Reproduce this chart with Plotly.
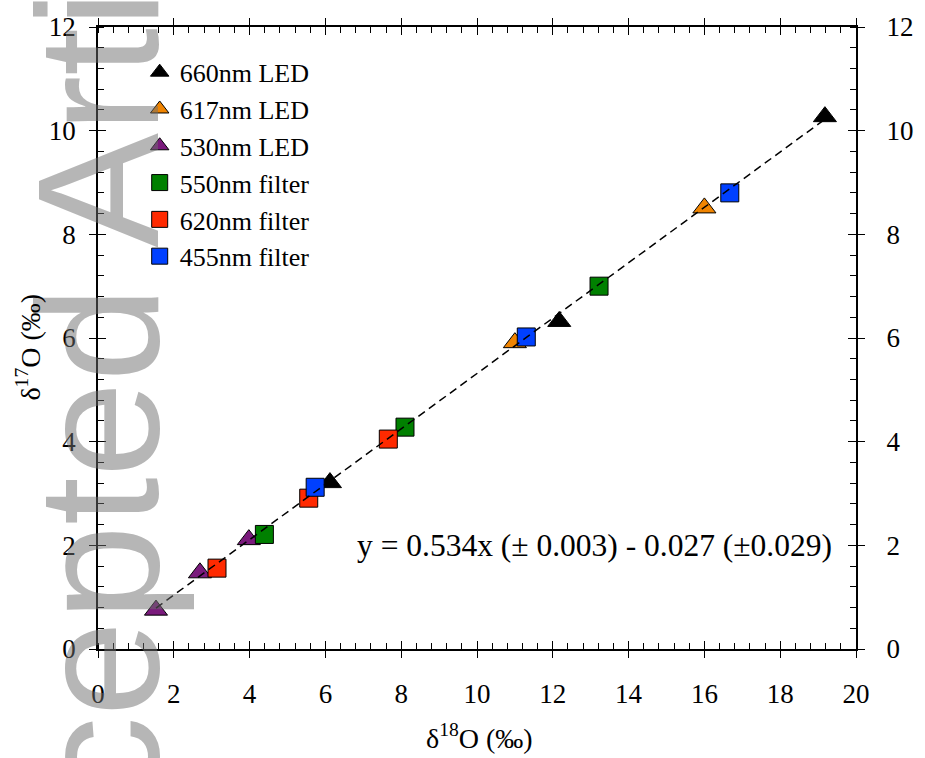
import plotly.graph_objects as go

# ---- data ----
led660_x = [6.12, 12.17, 19.18]
led660_y = [3.21, 6.32, 10.27]
led617_x = [11.0, 16.0]
led617_y = [5.91, 8.51]
led530_x = [1.53, 2.69, 3.98]
led530_y = [0.75, 1.47, 2.11]
f550_x = [4.39, 8.10, 13.22]
f550_y = [2.21, 4.28, 7.00]
f620_x = [3.14, 5.56, 7.66]
f620_y = [1.56, 2.91, 4.05]
f455_x = [5.73, 11.30, 16.67]
f455_y = [3.12, 6.02, 8.80]

fit_x = [1.53, 19.18]
fit_y = [0.79, 10.22]

x_ticks = [0, 2, 4, 6, 8, 10, 12, 14, 16, 18, 20]
y_ticks = [0, 2, 4, 6, 8, 10, 12]

series = [
    ("660nm LED", led660_x, led660_y, "triangle-up", "#000000", 20),
    ("617nm LED", led617_x, led617_y, "triangle-up", "#F08400", 20),
    ("530nm LED", led530_x, led530_y, "triangle-up", "#7A1A7C", 20),
    ("550nm filter", f550_x, f550_y, "square", "#008000", 18),
    ("620nm filter", f620_x, f620_y, "square", "#FF2A00", 18),
    ("455nm filter", f455_x, f455_y, "square", "#0040FF", 18),
]

SERIF = "Liberation Serif, Times New Roman, serif"
fig = go.Figure()
for i, (name, xs, ys, sym, col, sz) in enumerate(series):
    fig.add_trace(go.Scatter(
        x=xs, y=ys, mode="markers", name=name, legendgroup=f"g{i}",
        marker=dict(symbol=sym, color=col, size=sz,
                    line=dict(color="black", width=1)),
    ))

fig.add_trace(go.Scatter(
    x=fit_x, y=fit_y, mode="lines", showlegend=False,
    line=dict(color="black", width=1.5, dash="8px,5px"),
))

# empty helper traces so overlay axes are drawn
fig.add_trace(go.Scatter(x=[], y=[], xaxis="x2", yaxis="y", showlegend=False))
fig.add_trace(go.Scatter(x=[], y=[], xaxis="x", yaxis="y2", showlegend=False))
fig.add_trace(go.Scatter(x=[], y=[], xaxis="x", yaxis="y3", showlegend=False))

tickfont = dict(family=SERIF, size=27, color="black")

fig.update_layout(
    width=925, height=758,
    margin=dict(l=98, r=57, t=22, b=109),
    paper_bgcolor="white", plot_bgcolor="white",
    showlegend=True,
    legend=dict(x=0.055, y=0.965, xanchor="left", yanchor="top",
                bgcolor="rgba(0,0,0,0)", font=dict(family=SERIF, size=26, color="black"),
                tracegroupgap=0, itemwidth=30),
    xaxis=dict(range=[0, 20], tickvals=x_ticks, ticks="outside", ticklen=7, tickwidth=1.3,
               tickcolor="black", showline=True, linewidth=1.5, linecolor="black",
               mirror="ticks", showgrid=False, zeroline=False, tickfont=tickfont,
               ticklabelstandoff=13,
               minor=dict(dtick=0.4, tick0=0, ticks="inside", ticklen=6, tickwidth=1.2,
                          tickcolor="black", showgrid=False)),
    xaxis2=dict(range=[0, 20], overlaying="x", anchor="y", side="bottom", tickvals=x_ticks,
                ticks="inside", ticklen=8, tickwidth=1.3, tickcolor="black",
                mirror="ticks", showline=False, showgrid=False, zeroline=False,
                showticklabels=False),
    yaxis=dict(range=[0, 12], tickvals=y_ticks, ticks="outside", ticklen=7, tickwidth=1.3,
               tickcolor="black", showline=True, linewidth=1.5, linecolor="black",
               mirror="ticks", showgrid=False, zeroline=False, tickfont=tickfont,
               ticklabelstandoff=8,
               minor=dict(dtick=0.4, tick0=0, ticks="inside", ticklen=6, tickwidth=1.2,
                          tickcolor="black", showgrid=False)),
    yaxis2=dict(range=[0, 12], overlaying="y", anchor="x", side="right", tickvals=y_ticks,
                ticks="outside", ticklen=7, tickwidth=1.3, tickcolor="black",
                showline=False, showgrid=False, zeroline=False, tickfont=tickfont,
                ticklabelstandoff=17),
    yaxis3=dict(range=[0, 12], overlaying="y", anchor="x", side="left", tickvals=y_ticks,
                ticks="inside", ticklen=8, tickwidth=1.3, tickcolor="black",
                mirror="ticks", showline=False, showgrid=False, zeroline=False,
                showticklabels=False),
)

annotations = [
    dict(text="Accepted Article", textangle=-90, xref="paper", yref="paper",
         x=0.0, y=0.421, xanchor="center", yanchor="middle", showarrow=False,
         font=dict(family="Liberation Sans, Arial, sans-serif", size=172,
                   color="rgba(110,110,110,0.5)")),
    dict(text="y = 0.534x (± 0.003) - 0.027 (±0.029)", xref="x", yref="y",
         x=13.1, y=2.0, showarrow=False, xanchor="center", yanchor="middle",
         font=dict(family=SERIF, size=31.5, color="black")),
    dict(text="δ<sup>18</sup>O (‰)", xref="paper", yref="paper", x=0.503, y=-0.14,
         xanchor="center", yanchor="middle", showarrow=False,
         font=dict(family=SERIF, size=28, color="black")),
    dict(text="δ<sup>17</sup>O (‰)", xref="paper", yref="paper", x=-0.092, y=0.485,
         textangle=-90, xanchor="center", yanchor="middle", showarrow=False,
         font=dict(family=SERIF, size=28, color="black")),
]
fig.update_layout(annotations=annotations)

fig.write_html(
    "out.html",
    config={"displayModeBar": False},
    post_script="document.body.style.margin='0';document.body.style.overflow='hidden';",
)
